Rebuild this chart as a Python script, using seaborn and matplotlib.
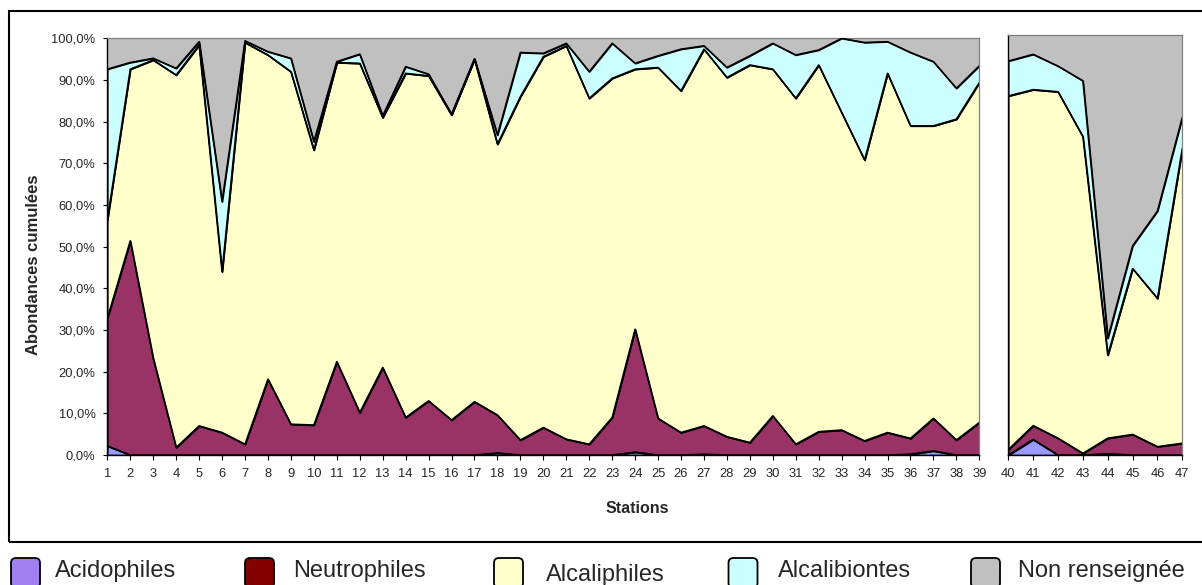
import numpy as np
import pandas as pd
import matplotlib
matplotlib.use("Agg")
import matplotlib.pyplot as plt
from matplotlib.patches import Rectangle, FancyBboxPatch
import seaborn as sns

# Ecological profile of diatom assemblages per station (% of relative abundance)
stations = list(range(1, 48))

acidophiles = [2.2, 0, 0, 0, 0, 0, 0, 0, 0, 0,
               0, 0, 0, 0, 0, 0, 0, 0.5, 0, 0,
               0, 0, 0, 0.7, 0, 0, 0.2, 0, 0, 0,
               0, 0, 0, 0, 0, 0.2, 1.0, 0, 0,
               0, 3.7, 0, 0, 0.3, 0, 0, 0]
neutrophiles = [30.6, 51.4, 23.2, 1.8, 7.0, 5.4, 2.6, 18.2, 7.4, 7.2,
                22.4, 10.2, 21.0, 9.0, 13.0, 8.4, 12.8, 9.1, 3.6, 6.6,
                3.8, 2.6, 9.0, 29.5, 8.8, 5.4, 6.8, 4.4, 3.0, 9.4,
                2.6, 5.6, 6.0, 3.4, 5.4, 3.8, 7.8, 3.6, 7.8,
                1.3, 3.3, 4.0, 0.4, 3.7, 4.9, 2.0, 2.8]
alcaliphiles = [23.6, 41.2, 71.6, 89.4, 91.4, 38.6, 96.4, 77.8, 84.6, 66.0,
                71.8, 83.8, 60.0, 82.6, 78.0, 73.2, 82.2, 65.0, 82.4, 89.0,
                94.4, 83.0, 81.4, 62.4, 84.2, 82.0, 90.4, 86.2, 90.6, 83.2,
                83.0, 88.0, 76.2, 67.4, 86.2, 75.0, 70.2, 77.0, 81.6,
                84.2, 80.0, 82.5, 75.4, 19.8, 39.5, 35.3, 70.2]
alcalibiontes = [36.2, 1.6, 0.4, 1.6, 0.8, 16.8, 0.4, 0.8, 3.2, 2.0,
                 0.2, 2.2, 0.4, 1.6, 0.4, 0.2, 0.1, 2.2, 10.6, 0.8,
                 0.6, 6.4, 8.4, 1.4, 2.8, 10.0, 0.8, 2.4, 2.2, 6.2,
                 10.4, 3.6, 17.8, 28.2, 7.6, 17.6, 15.4, 7.4, 4.0,
                 8.3, 8.4, 6.1, 13.3, 4.0, 5.4, 20.8, 7.4]
non_renseignee = [7.4, 5.8, 4.8, 7.2, 0.8, 39.2, 0.6, 3.2, 4.8, 24.8,
                  5.6, 3.8, 18.6, 6.8, 8.6, 18.2, 4.9, 23.2, 3.4, 3.6,
                  1.2, 8.0, 1.2, 6.0, 4.2, 2.6, 1.8, 7.0, 4.2, 1.2,
                  4.0, 2.8, 0.0, 1.0, 0.8, 3.4, 5.6, 12.0, 6.6,
                  6.2, 4.6, 7.4, 10.9, 72.2, 50.2, 41.9, 19.6]

groups = ["Acidophiles", "Neutrophiles", "Alcaliphiles", "Alcalibiontes", "Non renseignée"]
area_colors = ["#9999FF", "#993366", "#FFFFCC", "#CCFFFF", "#C0C0C0"]
legend_colors = ["#A080F0", "#800000", "#FFFFCC", "#CCFFFF", "#C0C0C0"]

df = pd.DataFrame({
    "Station": stations,
    "Acidophiles": acidophiles,
    "Neutrophiles": neutrophiles,
    "Alcaliphiles": alcaliphiles,
    "Alcalibiontes": alcalibiontes,
    "Non renseignée": non_renseignee,
})

sns.set_theme(style="white")
plt.rcParams["font.family"] = ["Liberation Sans", "DejaVu Sans"]

W, H = 1202, 585
fig = plt.figure(figsize=(W / 100, H / 100), dpi=100)

ax_main = fig.add_axes([107.3 / W, 130 / H, 872 / W, 416.7 / H])
ax_side = fig.add_axes([1008.3 / W, 130 / H, 174 / W, 420 / H])

tick_fs = 9.3
edge_lw = 1.1


def draw_panel(ax, sub):
    x = sub["Station"].to_numpy()
    stack = np.cumsum(sub[groups].to_numpy(dtype=float), axis=1)
    lower = np.zeros(len(x))
    for i, g in enumerate(groups):
        upper = stack[:, i]
        if g == "Non renseignée":
            ax.fill_between(x, lower, upper, facecolor=area_colors[i],
                            edgecolor="none", zorder=1)
        else:
            ax.fill_between(x, lower, upper, facecolor=area_colors[i],
                            edgecolor="black", linewidth=edge_lw, zorder=2)
        lower = upper
    # outlines of the stacked boundaries
    bounds = pd.DataFrame({
        "Station": np.repeat(x, 4),
        "level": np.tile(np.arange(4), len(x)),
        "value": stack[:, :4].ravel(),
    })
    sns.lineplot(data=bounds, x="Station", y="value", hue="level",
                 palette=["black"] * 4, linewidth=edge_lw, legend=False,
                 ax=ax, zorder=3)
    ax.set_xlim(x.min(), x.max())
    ax.set_ylim(0, 100)
    ax.set_xticks(x)
    ax.set_xticklabels([str(v) for v in x], fontsize=tick_fs)
    ax.set_xlabel("")
    ax.set_ylabel("")
    ax.tick_params(axis="x", direction="out", length=3.6, width=0.8,
                   color="black", pad=6, bottom=True)
    for side in ["top", "right"]:
        ax.spines[side].set_color("#808080")
        ax.spines[side].set_linewidth(0.9)
    for side in ["left", "bottom"]:
        ax.spines[side].set_color("black")
        ax.spines[side].set_linewidth(1.0)
    ax.grid(False)


draw_panel(ax_main, df[df["Station"] <= 39])
draw_panel(ax_side, df[df["Station"] >= 40])

ax_main.set_yticks(np.arange(0, 101, 10))
ax_main.set_yticklabels([f"{v:.1f}%".replace(".", ",") for v in np.arange(0, 101, 10)],
                        fontsize=tick_fs)
ax_main.tick_params(axis="y", direction="out", length=3, width=0.8,
                    color="black", pad=5.5, left=True)

ax_side.set_yticks([])

fig.text(34 / W, 1 - 264.5 / H, "Abondances cumulées", rotation=90,
         fontsize=12, fontweight="bold", ha="center", va="center")
fig.text(637.5 / W, 1 - 508.5 / H, "Stations", fontsize=11.5,
         fontweight="bold", ha="center", va="center")

# frame around the chart area
fig.patches.append(Rectangle((9.3 / W, 43 / H), 1.05, 531.3 / H,
                             transform=fig.transFigure, fill=False,
                             edgecolor="black", linewidth=1.5, zorder=0))

# legend row (boxes laid out in pixel units, origin at the bottom left)
box_x = [11, 245, 494, 728.5, 971]
text_x = [55, 293, 546, 778, 1017.5]
text_base = [577, 577, 581, 577, 577]
for bx, tx, tb, name, col in zip(box_x, text_x, text_base, groups, legend_colors):
    box = FancyBboxPatch((bx, H - 588), 29, 30,
                         boxstyle="round,pad=0,rounding_size=5",
                         facecolor=col, edgecolor="black", linewidth=1.3)
    box.set_transform(None)
    fig.patches.append(box)
    fig.text(tx / W, 1 - tb / H, name, fontsize=17, ha="left", va="baseline")

fig.savefig("out.png", dpi=100)
